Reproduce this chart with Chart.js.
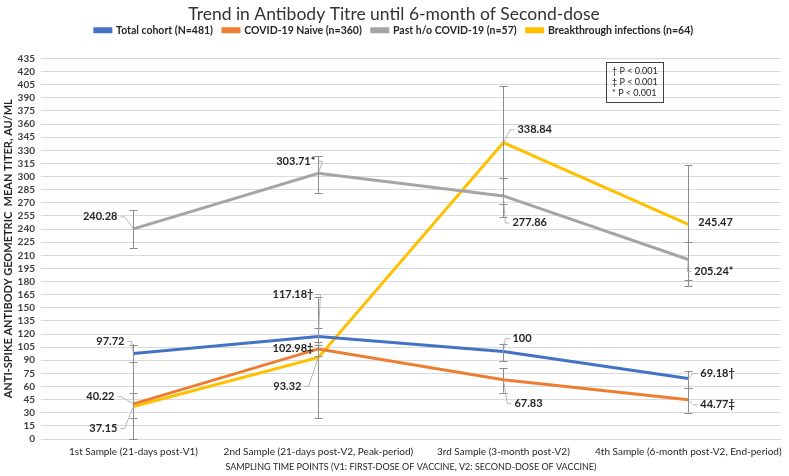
<!DOCTYPE html>
<html>
<head>
<meta charset="utf-8">
<script src="https://cdn.jsdelivr.net/npm/chart.js@4.4.1/dist/chart.umd.min.js"></script>
<style>
  html, body { margin: 0; padding: 0; background: #fff; }
  #wrap { width: 789px; height: 476px; }
</style>
</head>
<body>
<div id="wrap"><canvas id="titreChart"></canvas></div>
<script>
// Sampling points (x axis)
const samples = [
    '1st Sample (21-days post-V1)',
    '2nd Sample (21-days post-V2, Peak-period)',
    '3rd Sample (3-month post-V2)',
    '4th Sample (6-month post-V2, End-period)'
];

// Geometric mean titres per group
const totalCohort = [97.72, 117.18, 100, 69.18];
const covidNaive = [40.22, 102.98, 67.83, 44.77];
const pastCovid = [240.28, 303.71, 277.86, 205.24];
const breakthrough = [37.15, 93.32, 338.84, 245.47];

// significance marks after the labels
const totalMarks = ['', '\u2020', '', '\u2020'];
const naiveMarks = ['', '\u2021', '', '\u2021'];
const pastMarks = ['', '*', '', '*'];
const breakMarks = ['', '', '', ''];

// 95% CI limits
const totalLow = [88, 107, 89, 58];
const totalHigh = [108, 127, 109, 78];
const naiveLow = [24, 95, 53, 30];
const naiveHigh = [53, 111, 81, 58];
const pastLow = [218, 281, 254, 175];
const pastHigh = [262, 323, 298, 225];
const breakLow = [0, 24, 269, 182];
const breakHigh = [108, 162, 403, 313];

const chartTitle = 'Trend in Antibody Titre until 6-month of Second-dose';
const pNotes = ['\u2020 P < 0.001', '\u2021 P < 0.001', '* P < 0.001'];

// where each value label sits relative to its point: [dx, dy, align]
const labelPlace = [
    [[-9, -12, 'right'], [-5, -42, 'right'], [9, -13, 'left'], [12, -5, 'left']],
    [[-19, -7, 'right'], [-5, 0, 'right'], [11, 24, 'left'], [12, 5, 'left']],
    [[-16, -12, 'right'], [-3, -12, 'right'], [9, 27, 'left'], [6, 12, 'left']],
    [[-16, 22, 'right'], [-17, 29, 'right'], [14, -13, 'left'], [10, -2, 'left']]
];

const FONT = 'Lato, "Open Sans", sans-serif';

// error bars drawn over the lines
const errorBars = {
    id: 'errorBars',
    afterDatasetsDraw(chart) {
        const ctx = chart.ctx;
        const y = chart.scales.y;
        ctx.save();
        ctx.strokeStyle = '#8c8c8c';
        ctx.lineWidth = 1;
        chart.data.datasets.forEach((ds, i) => {
            const meta = chart.getDatasetMeta(i);
            meta.data.forEach((pt, j) => {
                const top = y.getPixelForValue(ds.high[j]);
                const bot = y.getPixelForValue(ds.low[j]);
                const x = Math.round(pt.x) + 0.5;
                ctx.beginPath();
                ctx.moveTo(x, top); ctx.lineTo(x, bot);
                ctx.moveTo(x - 4, Math.round(top) + 0.5); ctx.lineTo(x + 4, Math.round(top) + 0.5);
                ctx.moveTo(x - 4, Math.round(bot) + 0.5); ctx.lineTo(x + 4, Math.round(bot) + 0.5);
                ctx.stroke();
            });
        });
        ctx.restore();
    }
};

// value labels with leader lines, the title and the P-value box
const valueLabels = {
    id: 'valueLabels',
    afterDatasetsDraw(chart) {
        const ctx = chart.ctx;
        ctx.save();
        ctx.font = 'bold 11px ' + FONT;
        ctx.textBaseline = 'middle';
        chart.data.datasets.forEach((ds, i) => {
            const meta = chart.getDatasetMeta(i);
            meta.data.forEach((pt, j) => {
                const [dx, dy, align] = labelPlace[i][j];
                const text = ds.data[j] + ds.marks[j];
                const tx = pt.x + dx;
                const ty = pt.y + dy;
                ctx.textAlign = align;
                ctx.fillStyle = '#262626';
                ctx.fillText(text, tx, ty);
                if (Math.abs(dx) + Math.abs(dy) > 14) {
                    const ex = align === 'left' ? tx - 3 : tx + 3;
                    const hx = align === 'left' ? ex - 4 : ex + 4;
                    ctx.strokeStyle = '#a6a6a6';
                    ctx.lineWidth = 0.8;
                    ctx.beginPath();
                    ctx.moveTo(ex, ty);
                    ctx.lineTo(hx, ty);
                    ctx.lineTo(pt.x, pt.y);
                    ctx.stroke();
                }
            });
        });

        // P-value key
        ctx.strokeStyle = '#404040';
        ctx.lineWidth = 1;
        ctx.strokeRect(606.5, 62.5, 57, 40);
        ctx.font = '9px ' + FONT;
        ctx.textAlign = 'left';
        ctx.fillStyle = '#262626';
        pNotes.forEach((t, k) => ctx.fillText(t, 612, 71 + k * 11));

        // chart title
        ctx.font = '17.5px ' + FONT;
        ctx.textAlign = 'center';
        ctx.fillStyle = '#333333';
        ctx.fillText(chartTitle, 394, 14);
        ctx.restore();
    }
};

// extra room under the legend
const legendRoom = {
    id: 'legendRoom',
    beforeLayout(chart) {
        const lg = chart.legend;
        if (lg && !lg._roomAdded) {
            const fit = lg.fit;
            lg.fit = function () { fit.call(this); this.height += 13; };
            lg._roomAdded = true;
        }
    }
};

function series(label, data, color, marks, low, high) {
    return {
        label: label,
        data: data,
        marks: marks,
        low: low,
        high: high,
        borderColor: color,
        backgroundColor: color,
        borderWidth: 3,
        pointRadius: 0,
        pointHoverRadius: 0,
        tension: 0
    };
}

const ctx = document.getElementById('titreChart').getContext('2d');
const titreChart = new Chart(ctx, {
    type: 'line',
    data: {
        labels: samples,
        datasets: [
            series('Total cohort (N=481)', totalCohort, '#4472C4', totalMarks, totalLow, totalHigh),
            series('COVID-19 Naive (n=360)', covidNaive, '#ED7D31', naiveMarks, naiveLow, naiveHigh),
            series('Past h/o COVID-19 (n=57)', pastCovid, '#A5A5A5', pastMarks, pastLow, pastHigh),
            series('Breakthrough infections (n=64)', breakthrough, '#FFC000', breakMarks, breakLow, breakHigh)
        ]
    },
    options: {
        responsive: true,
        maintainAspectRatio: false,
        animation: false,
        layout: { padding: { left: 2, right: 3, top: 15, bottom: 0 } },
        plugins: {
            legend: {
                position: 'top',
                labels: {
                    boxWidth: 16,
                    boxHeight: 3,
                    padding: 10,
                    color: '#262626',
                    font: { family: FONT, size: 10.5, weight: 'bold' }
                }
            },
            tooltip: { enabled: false }
        },
        scales: {
            x: {
                offset: true,
                afterFit(scale) { scale.height = 37; },
                grid: { display: false, drawTicks: false },
                border: { color: '#d9d9d9' },
                ticks: {
                    color: '#262626',
                    maxRotation: 0,
                    autoSkip: false,
                    padding: 7,
                    font: { family: FONT, size: 10 }
                },
                title: {
                    display: true,
                    text: 'SAMPLING TIME POINTS (V1: FIRST-DOSE OF VACCINE, V2: SECOND-DOSE OF VACCINE)',
                    color: '#262626',
                    font: { family: FONT, size: 9 },
                    padding: { top: 3, bottom: 4 }
                }
            },
            y: {
                min: 0,
                max: 435,
                afterFit(scale) { scale.width = 39; },
                border: { display: false },
                grid: {
                    drawTicks: false,
                    color: c => (c.tick && c.tick.value % 15 === 0) ? '#d9d9d9' : '#efefef'
                },
                ticks: {
                    stepSize: 3,
                    autoSkip: false,
                    padding: 6,
                    color: '#404040',
                    font: { family: FONT, size: 10, weight: 'bold' },
                    callback: v => (v % 15 === 0 ? v : null)
                },
                title: {
                    display: true,
                    text: 'ANTI-SPIKE ANTIBODY GEOMETRIC  MEAN TITER, AU/ML',
                    color: '#262626',
                    font: { family: FONT, size: 11, weight: 'bold' },
                    padding: { top: 0, bottom: 0 }
                }
            }
        }
    },
    plugins: [legendRoom, errorBars, valueLabels]
});
</script>
</body>
</html>
